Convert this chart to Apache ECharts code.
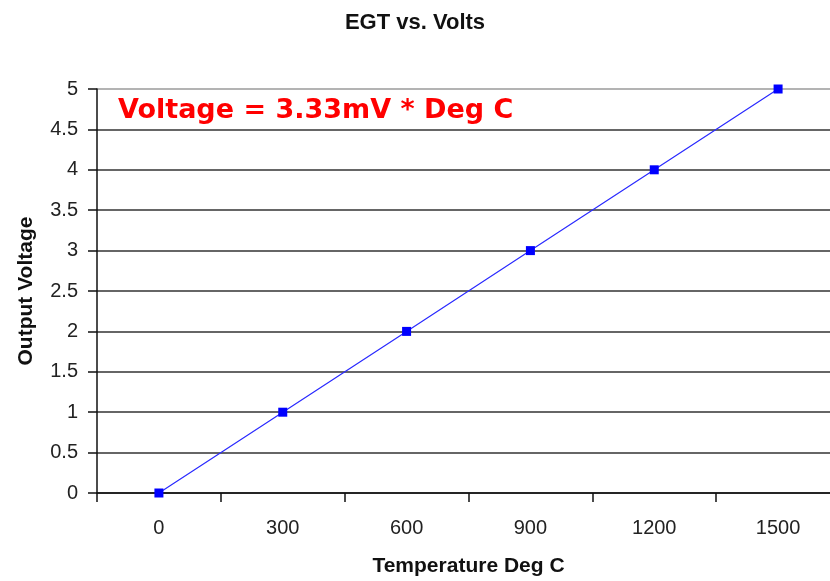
<!DOCTYPE html>
<html>
<head>
<meta charset="utf-8">
<script src="https://cdn.jsdelivr.net/npm/echarts@6/dist/echarts.min.js"></script>
<style>html,body{margin:0;padding:0;background:#fff;overflow:hidden}#c{width:830px;height:581px}</style>
</head>
<body>
<div id="c"></div>
<script>
var categories = ['0', '300', '600', '900', '1200', '1500'];
var voltage = [0, 1, 2, 3, 4, 5];
var chartTitle = 'EGT vs. Volts';
var xTitle = 'Temperature Deg C';
var yTitle = 'Output Voltage';
var note = 'Voltage = 3.33mV * Deg C';

var chart = echarts.init(document.getElementById('c'));
var gridColors = [];
for (var i = 0; i < 10; i++) gridColors.push('#333333');
gridColors.push('#9a9a9a');

chart.setOption({
  animation: false,
  backgroundColor: '#ffffff',
  title: {
    text: chartTitle, left: 'center', top: 7,
    textStyle: {fontFamily: 'Liberation Sans', fontSize: 22, fontWeight: 'bold', color: '#111'}
  },
  grid: {left: 97, top: 89, width: 743, height: 404, containLabel: false, outerBoundsMode: 'none'},
  xAxis: {
    type: 'category', data: categories, boundaryGap: true,
    name: xTitle, nameLocation: 'middle', nameGap: 63,
    nameTextStyle: {fontFamily: 'Liberation Sans', fontSize: 21, fontWeight: 'bold', color: '#111'},
    axisLine: {lineStyle: {color: '#111', width: 1.5}},
    axisTick: {show: true, length: 9, alignWithLabel: false, lineStyle: {color: '#111', width: 1.5}},
    axisLabel: {fontFamily: 'Liberation Sans', fontSize: 20, color: '#222', margin: 25},
    splitLine: {show: false}
  },
  yAxis: {
    type: 'value', min: 0, max: 5, interval: 0.5,
    name: yTitle, nameLocation: 'middle', nameGap: 60, nameRotate: 90,
    nameTextStyle: {fontFamily: 'Liberation Sans', fontSize: 21, fontWeight: 'bold', color: '#111'},
    axisLine: {show: true, lineStyle: {color: '#111', width: 1.5}},
    axisTick: {show: true, length: 9, lineStyle: {color: '#111', width: 1.5}},
    axisLabel: {fontFamily: 'Liberation Sans', fontSize: 20, color: '#222', margin: 19},
    splitLine: {show: true, lineStyle: {color: gridColors, width: 1.5}}
  },
  graphic: [{
    type: 'text', left: 118, top: 97,
    style: {text: note, fill: '#ff0000', font: 'bold 27px "DejaVu Sans"'}
  }],
  series: [{
    type: 'line', data: voltage,
    symbol: 'rect', symbolSize: 9,
    itemStyle: {color: '#0000ff'},
    lineStyle: {color: '#2a2aff', width: 1.2}
  }]
});
</script>
</body>
</html>
